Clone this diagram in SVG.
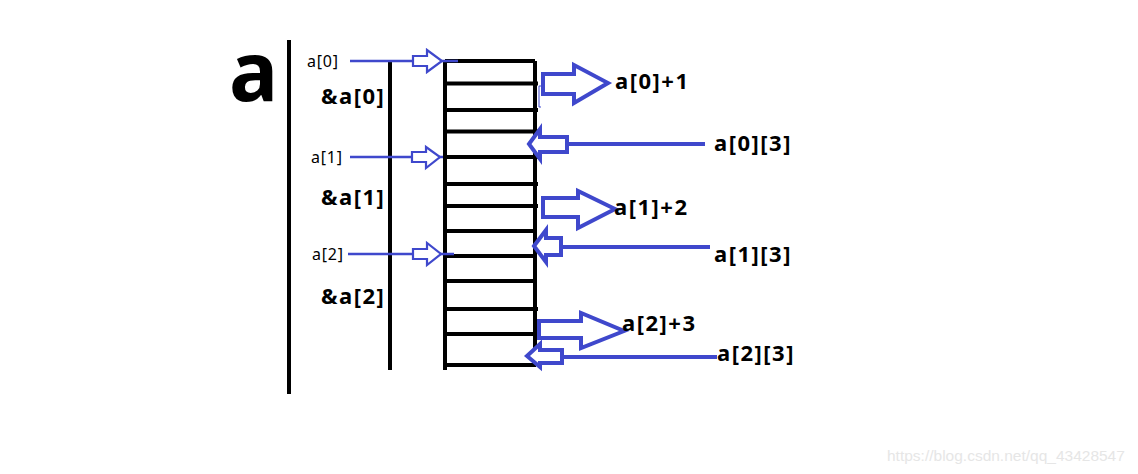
<svg xmlns="http://www.w3.org/2000/svg" width="1138" height="474" viewBox="0 0 1138 474">
<style>
.blk{stroke:#000;stroke-width:4;fill:none;stroke-linecap:butt}
.bl{stroke:#3f48cc;fill:none}
.big{stroke:#3f48cc;stroke-width:4;fill:#fff;stroke-linejoin:miter}
.sm{stroke:#3f48cc;stroke-width:2.2;fill:#fff}
.lbl{font-family:"Noto Sans","Open Sans",sans-serif;fill:#000}
.b{font-weight:bold;font-size:22px;letter-spacing:1.5px}
.s{font-size:16px;letter-spacing:0.8px}
</style>
<rect width="1138" height="474" fill="#fff"/>
<g id="title"><text class="lbl" x="229" y="101" font-size="82" font-weight="bold">a</text></g>
<g id="axis">
<line class="blk" x1="289" y1="40" x2="289" y2="394"/>
<line class="blk" x1="390" y1="61" x2="390" y2="370"/>
</g>
<g id="grid">
<path class="blk" d="M445,61 V370 M535,61 V366"/>
<path class="blk" d="M445,61H535 M445,83.5H538 M445,110H538 M445,131.5H538 M445,157H538 M445,184H538 M443,206H538 M445,231H536 M445,256H536 M445,281H536 M445,309H538 M445,334H536 M445,365H536"/>
</g>
<g id="row-labels">
<text class="lbl b" x="321" y="104">&amp;a[0]</text>
<text class="lbl b" x="321" y="205">&amp;a[1]</text>
<text class="lbl b" x="321" y="304">&amp;a[2]</text>
<text class="lbl s" x="307" y="67">a[0]</text>
<text class="lbl s" x="311" y="163">a[1]</text>
<text class="lbl s" x="312" y="260">a[2]</text>
</g>
<g id="connectors">
<line class="bl" stroke-width="2.5" x1="350" y1="61" x2="458" y2="61"/>
<path class="sm" d="M413,56 L427,56 L427,50 L442,61 L427,72 L427,66 L413,66 Z"/>
<line class="bl" stroke-width="2.5" x1="350" y1="157" x2="443" y2="157"/>
<path class="sm" d="M412,152 L426,152 L426,147 L440,157 L426,168 L426,162 L412,162 Z"/>
<line class="bl" stroke-width="2.5" x1="348" y1="254" x2="454" y2="254"/>
<path class="sm" d="M413,249 L427,249 L427,243 L441,254 L427,265 L427,259 L413,259 Z"/>
<path class="big" d="M543,74 L574,74 L574,65 L608,83 L574,103 L574,94 L543,94 Z"/>
<path class="big" d="M543,198 L578,198 L578,191 L615,209 L578,228 L578,217 L543,217 Z"/>
<path class="big" d="M539,321 L581,321 L581,313 L624,331 L581,348 L581,338 L539,338 Z"/>
<line class="bl" stroke-width="4" x1="567" y1="144" x2="705" y2="144"/>
<path class="big" d="M529,144 L540,129 L540,137 L567,137 L567,152 L540,152 L540,159 Z"/>
<line class="bl" stroke-width="4" x1="561" y1="247" x2="710" y2="247"/>
<path class="big" d="M534,246 L546,230 L546,238 L561,238 L561,255 L546,255 L546,262 Z"/>
<line class="bl" stroke-width="4" x1="562" y1="357" x2="717" y2="357"/>
<path class="big" d="M527,356 L540,344 L540,350 L562,350 L562,363 L540,363 L540,367 Z"/>
<path class="bl" stroke-width="1" d="M541,86 H539 V107 H541"/>
</g>
<g id="targets">
<text class="lbl b" x="615" y="89">a[0]+1</text>
<text class="lbl b" x="714" y="151">a[0][3]</text>
<text class="lbl b" x="614" y="215">a[1]+2</text>
<text class="lbl b" x="714" y="262">a[1][3]</text>
<text class="lbl b" x="622" y="331">a[2]+3</text>
<text class="lbl b" x="717" y="361">a[2][3]</text>
</g>
<g id="watermark"><text x="887" y="461" font-family="Liberation Sans, Arial, sans-serif" font-size="15.5" fill="#e6e6e6">https://blog.csdn.net/qq_43428547</text></g>
</svg>
